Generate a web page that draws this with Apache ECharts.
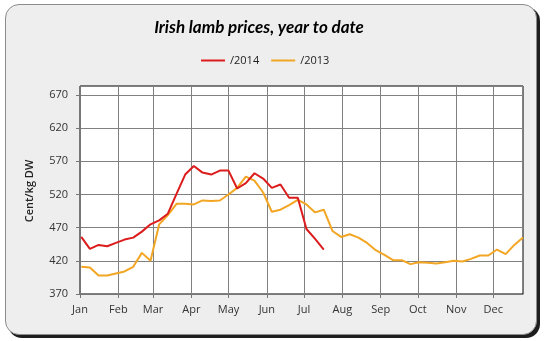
<!DOCTYPE html>
<html>
<head>
<meta charset="utf-8">
<script src="https://cdn.jsdelivr.net/npm/echarts@6/dist/echarts.min.js"></script>
<style>
  html, body { margin:0; padding:0; background:#ffffff; }
  #frame { position:absolute; left:5px; top:4px; width:530px; height:329px;
           border:1px solid #8c8c8c; border-radius:14px; background:#eeeeee;
           box-shadow:3px 3px 0 #1e1e1e; }
  #chart { position:absolute; left:0; top:0; width:546px; height:341px; }
</style>
</head>
<body>
<div id="frame"></div>
<div id="chart"></div>
<script>
// ---- data ----
const titleText = 'Irish lamb prices, year to date';
const seriesNames = ['/2014', '/2013'];
const monthLabels = ['Jan','Feb','Mar','Apr','May','Jun','Jul','Aug','Sep','Oct','Nov','Dec'];
const yTicks = [370, 420, 470, 520, 570, 620, 670];
// weekly prices (cent/kg DW), first week ending 2 Jan
const prices2014 = [456,438,444,442,447,452,455,464,475,481,491,521,550,563,553,550,556,556,529,537,552,544,530,535,515,515,468,453,437];
const prices2013 = [411,410,398,398,401,404,411,432,420,475,489,506,506,505,511,510,511,520,530,547,541,523,494,497,504,512,505,493,497,465,456,460,455,447,436,429,421,421,415,418,417,416,418,420,419,423,428,428,437,430,444,455];
const firstWeek = '2013-01-02';
const lastDay = '2013-12-25';

// ---- daily category axis ----
const DAY = 86400000;
const start = Date.UTC(2013, 0, 1);
const end = Date.parse(lastDay + 'T00:00:00Z');
const days = [];
for (let t = start; t <= end; t += DAY) days.push(new Date(t));
const dayNames = days.map(d => d.toISOString().slice(0, 10));
const isMonthStart = (i) => days[i] && days[i].getUTCDate() === 1;
const firstIdx = dayNames.indexOf(firstWeek);
const toPairs = arr => arr.map((v, i) => [firstIdx + i * 7, v]);

const chart = echarts.init(document.getElementById('chart'), null, {renderer: 'canvas'});
chart.setOption({
  backgroundColor: 'transparent',
  animation: false,
  graphic: [
    { type: 'text', x: 259, y: 28, style: { text: titleText, align: 'center', verticalAlign: 'middle',
      font: 'italic bold 17px Lato', fill: '#000' }, z: 10 },
    { type: 'text', x: 30, y: 191, rotation: Math.PI / 2, style: { text: 'Cent/kg DW',
      font: '600 11px "Open Sans"', fill: '#222', align: 'center', verticalAlign: 'middle' } }
  ],
  legend: {
    top: 50, left: 196,
    icon: 'rect', itemWidth: 24, itemHeight: 2, itemGap: 12,
    textStyle: { fontFamily: 'Open Sans', fontSize: 11, color: '#222' },
    data: seriesNames
  },
  grid: { left: 80, right: 23, top: 86, bottom: 47, show: true,
          backgroundColor: '#ffffff', borderColor: '#000', borderWidth: 1 },
  xAxis: {
    type: 'category', data: dayNames, boundaryGap: false,
    axisLine: { lineStyle: { color: '#777' } },
    axisTick: { show: true, length: 4, interval: (i) => isMonthStart(i), lineStyle: { color: '#777' } },
    splitLine: { show: true, interval: (i) => isMonthStart(i), lineStyle: { color: '#808080', width: 1 } },
    axisLabel: { interval: (i) => isMonthStart(i), margin: 10,
      formatter: (v) => monthLabels[Number(v.slice(5, 7)) - 1],
      fontFamily: 'Open Sans', fontSize: 11, color: '#333' }
  },
  yAxis: {
    type: 'value', min: yTicks[0], max: 683.5, interval: 50,
    axisLine: { show: true, lineStyle: { color: '#777' } },
    axisTick: { show: true, length: 4, lineStyle: { color: '#777' } },
    splitLine: { lineStyle: { color: '#808080', width: 1 } },
    axisLabel: { margin: 12, showMaxLabel: false,
      formatter: (v) => yTicks.includes(v) ? String(v) : '',
      fontFamily: 'Open Sans', fontSize: 11, color: '#333' }
  },
  series: [
    { name: seriesNames[0], type: 'line', data: toPairs(prices2014), symbol: 'none',
      lineStyle: { color: '#dc1c1c', width: 2 }, itemStyle: { color: '#dc1c1c' }, z: 3 },
    { name: seriesNames[1], type: 'line', data: toPairs(prices2013), symbol: 'none',
      lineStyle: { color: '#f2a623', width: 2 }, itemStyle: { color: '#f2a623' }, z: 2 }
  ]
});
</script>
</body>
</html>
